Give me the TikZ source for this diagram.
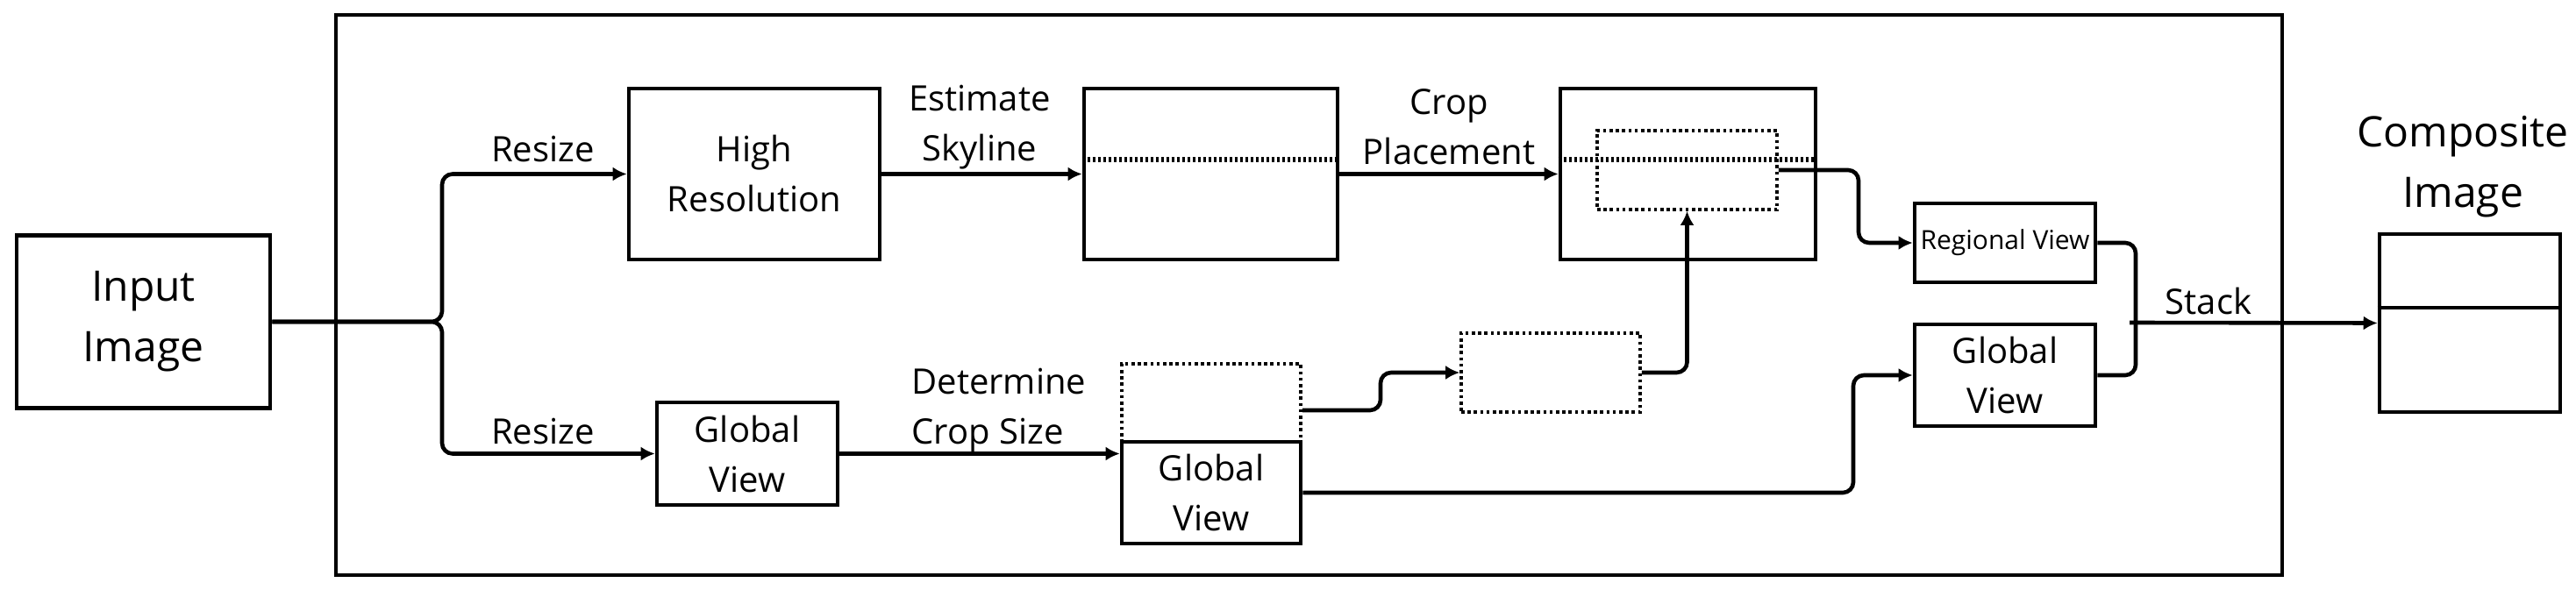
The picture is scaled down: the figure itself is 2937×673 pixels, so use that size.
\documentclass[tikz,border=0pt]{standalone}
\usepackage{fontspec}
\setmainfont{Open Sans}
\usetikzlibrary{arrows.meta,calc}
\begin{document}
\begin{tikzpicture}[x=0.5pt,y=-0.5pt,
 sz/.style 2 args={minimum width=#1*0.5pt,minimum height=#2*0.5pt},
 box/.style={draw,line width=2.3pt,inner sep=0pt,align=center,font=\fontsize{20}{28.5}\selectfont},
 dbox/.style={draw,line width=1.8pt,dash pattern=on 1.8pt off 1.8pt,inner sep=0pt},
 lbl/.style={inner sep=0pt,align=center,font=\fontsize{20}{28.5}\selectfont},
 big/.style={font=\fontsize{24}{34.5}\selectfont},
 conn/.style={line width=2.3pt,rounded corners=6pt},
 arr/.style={conn,-{Latex[length=8pt,width=8pt]}},
 skyl/.style={line width=3.2pt,dash pattern=on 1.8pt off 1.2pt}]
\useasboundingbox (0,0) rectangle (2937,673);

% frame
\node[box,sz={2219}{639}] (frame) at (1492.5,336.5) {};

% nodes
\node[box,big,sz={289}{197}] (inp) at (163.5,367) {Input\\Image};
\node[box,sz={286}{195}] (hr) at (860,198.5) {High\\Resolution};
\node[box,sz={289}{195}] (b2) at (1380.5,198.5) {};
\node[box,sz={291}{195}] (b3) at (1924.5,198.5) {};
\node[dbox,sz={205}{90}] (inner) at (1923.5,194) {};
\node[dbox,sz={204}{90}] (dm) at (1768,425) {};
\node[box,sz={206}{117}] (gvs) at (852,517.5) {Global\\View};
\node[dbox,sz={204}{89}] (gvd) at (1381,459.5) {};
\node[box,sz={204}{116}] (gvl) at (1381,562) {Global\\View};
\node[box,sz={206}{90},font=\fontsize{15}{18}\selectfont] (rv) at (2286,277) {Regional View};
\node[box,sz={206}{116}] (gvr) at (2286,428) {Global\\View};
\node[box,sz={206}{203}] (comp) at (2816,368.5) {};

% skyline lines
\draw[skyl] ($(b2.west)+(0,-16.5)$) -- ($(b2.east)+(0,-16.5)$);
\draw[skyl] ($(b3.west)+(0,-16.5)$) -- ($(b3.east)+(0,-16.5)$);
\draw[line width=2.3pt] ($(comp.west)+(0,-17.5)$) -- ($(comp.east)+(0,-17.5)$);

% labels
\node[lbl] (l1) at (619,170) {Resize};
\node[lbl] (l2) at (619,492) {Resize};
\node[lbl] (l3) at (1117,145) {Estimate\\Skyline};
\node[lbl] (l4) at (1652,145) {Crop\\Placement};
\node[lbl,align=left,anchor=west] (l5) at (1039,468) {Determine\\Crop Size};
\node[lbl] (l6) at (2518,343) {Stack};
\node[lbl,big] (l7) at (2808,190) {Composite\\Image};

% connectors
\coordinate (br) at (inp.east -| 504,0);
\draw[arr] (inp.east) -- (br) |- (hr.west);
\draw[arr] (inp.east) -- (br) |- (gvs.west);
\draw[arr] (hr.east) -- (b2.west);
\draw[arr] (b2.east) -- (b3.west);
\draw[arr] (gvs.east) -- (gvs.east -| gvl.west);
\coordinate (s1) at (1574,468);
\draw[arr] ($(gvd.east)+(0,8.5)$) -- (s1) |- (dm.west);
\draw[arr] (dm.east) -| (inner.south);
\coordinate (r1) at (2119,194);
\draw[arr] (inner.east) -- (r1) |- (rv.west);
\coordinate (g1) at (2113,562);
\draw[arr] (gvl.east) -- (g1) |- (gvr.west);
\coordinate (m1) at (2435,368);
\draw[conn] (rv.east) -| (m1);
\draw[conn] (gvr.east) -| (m1);
\draw[arr] ($(m1)+(-7,0)$) -- (comp.west);
\end{tikzpicture}
\end{document}
